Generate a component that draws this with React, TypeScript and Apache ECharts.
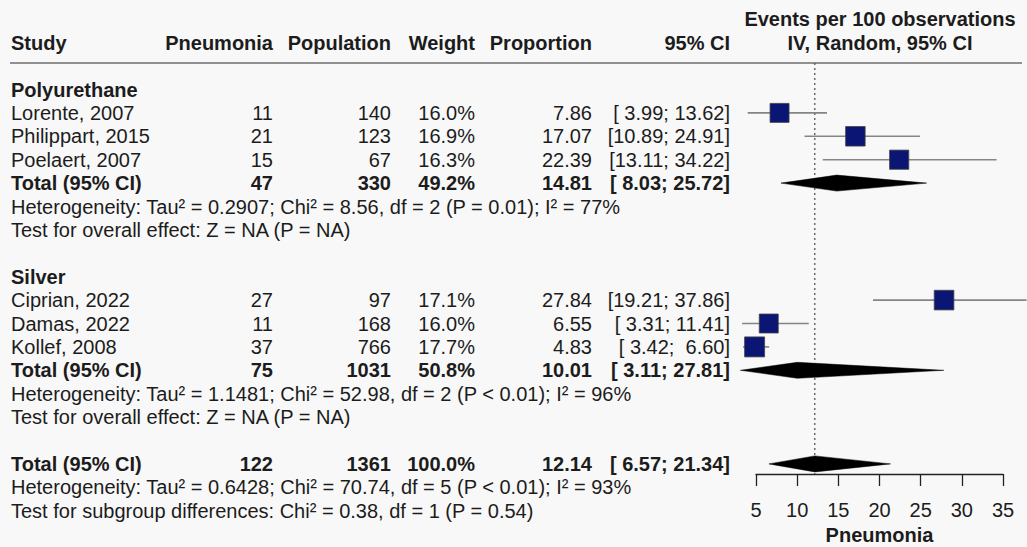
import React, { useEffect, useRef } from "react";
import * as echarts from "echarts";

// ---- Data ----
const studyNames = ["Lorente, 2007", "Philippart, 2015", "Poelaert, 2007", "Ciprian, 2022", "Damas, 2022", "Kollef, 2008"];
const studyEvents = [11, 21, 15, 27, 11, 37];
const studyTotals = [140, 123, 67, 97, 168, 766];
const studyWeights = [16.0, 16.9, 16.3, 17.1, 16.0, 17.7];
const studyProps = [7.86, 17.07, 22.39, 27.84, 6.55, 4.83];
const studyLower = [3.99, 10.89, 13.11, 19.21, 3.31, 3.42];
const studyUpper = [13.62, 24.91, 34.22, 37.86, 11.41, 6.6];
const studyRows = [1, 2, 3, 9, 10, 11];

const groupNames = ["Polyurethane", "Silver"];
const groupLabelRows = [0, 8];
const groupEvents = [47, 75];
const groupTotals = [330, 1031];
const groupWeights = [49.2, 50.8];
const groupProps = [14.81, 10.01];
const groupLower = [8.03, 3.11];
const groupUpper = [25.72, 27.81];
const groupTotalRows = [4, 12];

const overallEvents = 122;
const overallTotal = 1361;
const overallWeight = 100.0;
const overallProp = 12.14;
const overallLower = 6.57;
const overallUpper = 21.34;
const overallRow = 16;

const noteTexts = [
  "Heterogeneity: Tau\u00b2 = 0.2907; Chi\u00b2 = 8.56, df = 2 (P = 0.01); I\u00b2 = 77%",
  "Test for overall effect: Z = NA (P = NA)",
  "Heterogeneity: Tau\u00b2 = 1.1481; Chi\u00b2 = 52.98, df = 2 (P < 0.01); I\u00b2 = 96%",
  "Test for overall effect: Z = NA (P = NA)",
  "Heterogeneity: Tau\u00b2 = 0.6428; Chi\u00b2 = 70.74, df = 5 (P < 0.01); I\u00b2 = 93%",
  "Test for subgroup differences: Chi\u00b2 = 0.38, df = 1 (P = 0.54)",
];
const noteRows = [5, 6, 13, 14, 17, 18];

const headerLabels = ["Study", "Pneumonia", "Population", "Weight", "Proportion", "95% CI"];
const plotHeader = ["Events per 100 observations", "IV, Random, 95% CI"];
const axisTicks = [5, 10, 15, 20, 25, 30, 35];
const axisTitle = "Pneumonia";

// ---- Style / layout ----
const FONT = "'Liberation Sans', Arial, Helvetica, sans-serif";
const FS = 20;
const TEXT = "#1c1c1c";
const BG = "#f8f8f8";
const COLS = [
  { x: 11, align: "left" },
  { x: 273, align: "right" },
  { x: 391, align: "right" },
  { x: 475, align: "right" },
  { x: 592, align: "right" },
  { x: 730, align: "right" },
];
const GRID_TOP = 63;
const GRID_BOTTOM_Y = 474;
const PITCH = 23.4;
const ROW0_Y = 89.5;
const Y_MIN = -(ROW0_Y - GRID_TOP) / PITCH;
const Y_MAX = Y_MIN + (GRID_BOTTOM_Y - GRID_TOP) / PITCH;

const pad5 = (v: number) => {
  const s = v.toFixed(2);
  return s.length < 5 ? " ".repeat(5 - s.length) + s : s;
};
const ci = (lo: number, hi: number) => "[" + pad5(lo) + "; " + pad5(hi) + "]";

type TRow = { row: number; bold: boolean; cells: string[] };

function buildTable(): TRow[] {
  const rows: TRow[] = [];
  groupNames.forEach((g, i) => rows.push({ row: groupLabelRows[i], bold: true, cells: [g] }));
  studyNames.forEach((n, i) =>
    rows.push({
      row: studyRows[i],
      bold: false,
      cells: [n, String(studyEvents[i]), String(studyTotals[i]), studyWeights[i].toFixed(1) + "%", studyProps[i].toFixed(2), ci(studyLower[i], studyUpper[i])],
    })
  );
  groupNames.forEach((g, i) =>
    rows.push({
      row: groupTotalRows[i],
      bold: true,
      cells: ["Total (95% CI)", String(groupEvents[i]), String(groupTotals[i]), groupWeights[i].toFixed(1) + "%", groupProps[i].toFixed(2), ci(groupLower[i], groupUpper[i])],
    })
  );
  rows.push({
    row: overallRow,
    bold: true,
    cells: ["Total (95% CI)", String(overallEvents), String(overallTotal), overallWeight.toFixed(1) + "%", overallProp.toFixed(2), ci(overallLower, overallUpper)],
  });
  noteTexts.forEach((t, i) => rows.push({ row: noteRows[i], bold: false, cells: [t] }));
  return rows;
}

function txt(x: number, y: number, text: string, align: string, bold: boolean, vAlign = "middle") {
  return {
    type: "text",
    x,
    y,
    style: {
      text,
      fontSize: FS,
      fontFamily: FONT,
      fontWeight: bold ? "bold" : "normal",
      fill: TEXT,
      align,
      textAlign: align,
      verticalAlign: vAlign,
      textVerticalAlign: vAlign,
    },
  };
}

export default function App() {
  const ref = useRef<HTMLDivElement>(null);
  useEffect(() => {
    if (!ref.current) return;
    const chart = echarts.init(ref.current, null, { renderer: "svg" });
    const table = buildTable();

    const studyData = studyProps.map((p, i) => [p, studyLower[i], studyUpper[i], studyRows[i], studyWeights[i]]);
    const diamondData = [
      ...groupProps.map((p, i) => [p, groupLower[i], groupUpper[i], groupTotalRows[i]]),
      [overallProp, overallLower, overallUpper, overallRow],
    ];

    const headerGraphics: any[] = headerLabels.map((h, i) => txt(COLS[i].x, 43, h, COLS[i].align, true));
    plotHeader.forEach((h, i) => headerGraphics.push(txt(880, i === 0 ? 19 : 43, h, "center", true)));
    headerGraphics.push({
      type: "line",
      shape: { x1: 10, y1: GRID_TOP, x2: 1022, y2: GRID_TOP },
      style: { stroke: "#6e6e6e", lineWidth: 1.5 },
    });

    const option: any = {
      animation: false,
      backgroundColor: BG,
      graphic: headerGraphics,
      grid: {
        left: 756,
        right: 1027 - 1003,
        top: GRID_TOP,
        bottom: 547 - GRID_BOTTOM_Y,
        containLabel: false,
        outerBoundsMode: "none",
      },
      xAxis: {
        type: "value",
        position: "bottom",
        min: axisTicks[0],
        max: axisTicks[axisTicks.length - 1],
        interval: 5,
        name: axisTitle,
        nameLocation: "middle",
        nameGap: 48,
        nameTextStyle: { fontSize: FS, fontFamily: FONT, fontWeight: "bold", color: TEXT },
        axisLine: { show: true, onZero: false, lineStyle: { color: "#222", width: 1.3 } },
        axisTick: { show: true, length: 12, lineStyle: { color: "#222", width: 1.3 } },
        axisLabel: { fontSize: FS, fontFamily: FONT, color: TEXT, margin: 26 },
        splitLine: { show: false },
      },
      yAxis: { type: "value", inverse: true, min: Y_MIN, max: Y_MAX, show: false, splitLine: { show: false } },
      series: [
        {
          type: "custom",
          name: "reference",
          clip: false,
          z: 1,
          data: [[overallProp]],
          encode: { x: 0 },
          renderItem: (params: any, api: any) => {
            const v = api.value(0);
            const a = api.coord([v, Y_MIN]);
            const b = api.coord([v, Y_MAX]);
            return {
              type: "line",
              shape: { x1: a[0], y1: a[1], x2: b[0], y2: b[1] },
              style: { stroke: "#555", lineWidth: 1.3, lineDash: [2, 3] },
            };
          },
        },
        {
          type: "custom",
          name: "studies",
          clip: false,
          z: 3,
          data: studyData,
          encode: { x: [0, 1, 2], y: 3 },
          renderItem: (params: any, api: any) => {
            const p = api.value(0), lo = api.value(1), hi = api.value(2), r = api.value(3), w = api.value(4);
            const c = api.coord([p, r]);
            const l = api.coord([lo, r]);
            const h = api.coord([hi, r]);
            const s = 4.75 * Math.sqrt(w);
            return {
              type: "group",
              children: [
                { type: "line", shape: { x1: l[0], y1: c[1], x2: h[0], y2: c[1] }, style: { stroke: "#858585", lineWidth: 1.6 } },
                { type: "rect", shape: { x: c[0] - s / 2, y: c[1] - s / 2, width: s, height: s }, style: { fill: "#0b1574", stroke: "#444", lineWidth: 0.8 } },
              ],
            };
          },
        },
        {
          type: "custom",
          name: "diamonds",
          clip: false,
          z: 2,
          data: diamondData,
          encode: { x: [0, 1, 2], y: 3 },
          renderItem: (params: any, api: any) => {
            const p = api.value(0), lo = api.value(1), hi = api.value(2), r = api.value(3);
            const c = api.coord([p, r]);
            const l = api.coord([lo, r]);
            const h = api.coord([hi, r]);
            const hh = 8;
            return {
              type: "polygon",
              shape: { points: [[l[0], c[1]], [c[0], c[1] - hh], [h[0], c[1]], [c[0], c[1] + hh]] },
              style: { fill: "#000", stroke: "#000", lineWidth: 0.5 },
            };
          },
        },
        {
          type: "custom",
          name: "table",
          clip: false,
          z: 4,
          data: table.map((t) => [axisTicks[0], t.row]),
          encode: { y: 1 },
          renderItem: (params: any, api: any) => {
            const t = table[params.dataIndex];
            const y = api.coord([axisTicks[0], api.value(1)])[1];
            return {
              type: "group",
              children: t.cells.map((cell, ci2) => txt(COLS[ci2].x, y, cell, COLS[ci2].align, t.bold)),
            };
          },
        },
      ],
    };
    chart.setOption(option);
    return () => chart.dispose();
  }, []);
  return (
    <div
      ref={ref}
      style={{ position: "absolute", left: 0, top: 0, width: 1027, height: 547, background: BG }}
    />
  );
}
